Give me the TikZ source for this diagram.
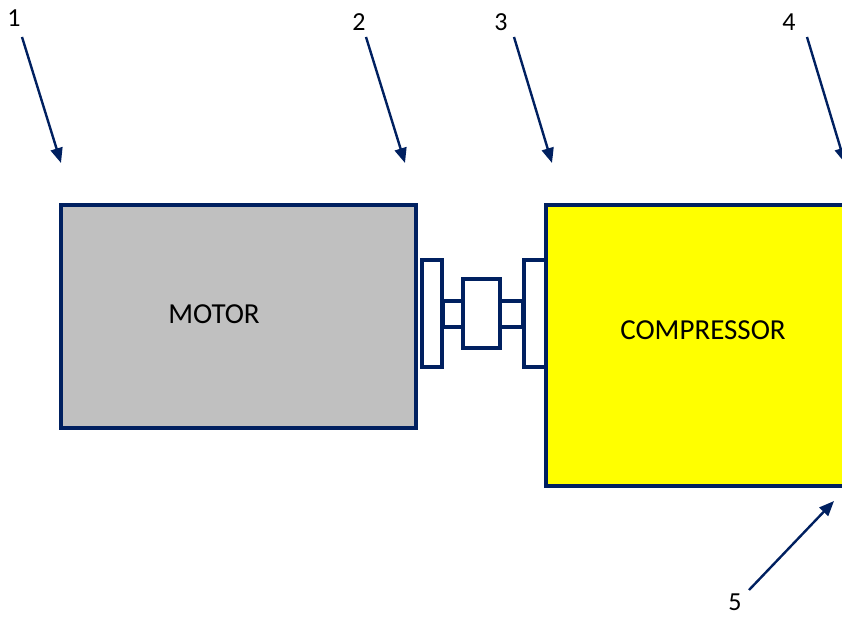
\documentclass[tikz,border=0pt]{standalone}
\usepackage{fontspec}
\setmainfont{Carlito}
\usetikzlibrary{arrows.meta}
\definecolor{navy}{HTML}{002060}
\definecolor{motorgray}{HTML}{C0C0C0}
\definecolor{compyellow}{HTML}{FFFF00}
\tikzset{
  part/.style={draw=navy, line width=3.8pt},
  callout/.style={draw=navy, line width=2.4pt, -{Triangle[length=15pt,width=12pt]}},
  numlabel/.style={font=\fontsize{26}{30}\selectfont, inner sep=0pt, anchor=center},
  bigtext/.style={font=\fontsize{29}{32}\selectfont, inner sep=0pt}
}
\begin{document}
\begin{tikzpicture}[x=1pt,y=-1pt]
\useasboundingbox (0,0) rectangle (842,617);
\clip (0,0) rectangle (842,617);
% motor
\draw[part, fill=motorgray] (61,205) rectangle (416,428);
\node[bigtext] (motor) at (214,314) {MOTOR};
% compressor
\draw[part, fill=compyellow] (546,205) rectangle (860,486);
\node[bigtext] (comp) at (703,330) {COMPRESSOR};
% coupling
\draw[part, fill=white] (443,301) rectangle (463,327);
\draw[part, fill=white] (500,301) rectangle (523,327);
\draw[part, fill=white] (422,260) rectangle (442,367);
\draw[part, fill=white] (463,279) rectangle (500,348);
\draw[part, fill=white] (524,260) rectangle (546,367);
% labels
\node[numlabel] (l1) at (14,18) {1};
\node[numlabel] (l2) at (359,22) {2};
\node[numlabel] (l3) at (501,22) {3};
\node[numlabel] (l4) at (789,22) {4};
\node[numlabel] (l5) at (735,602) {5};
\coordinate (s1) at (22,37);   \coordinate (t1) at (61,163);
\coordinate (s2) at (366,37);  \coordinate (t2) at (405,163);
\coordinate (s3) at (514,37);  \coordinate (t3) at (552,163);
\coordinate (s4) at (807,37);  \coordinate (t4) at (845,163);
\coordinate (s5) at (749,590); \coordinate (t5) at (834,501);
\draw[callout] (s1) -- (t1);
\draw[callout] (s2) -- (t2);
\draw[callout] (s3) -- (t3);
\draw[callout] (s4) -- (t4);
\draw[callout] (s5) -- (t5);
\end{tikzpicture}
\end{document}
